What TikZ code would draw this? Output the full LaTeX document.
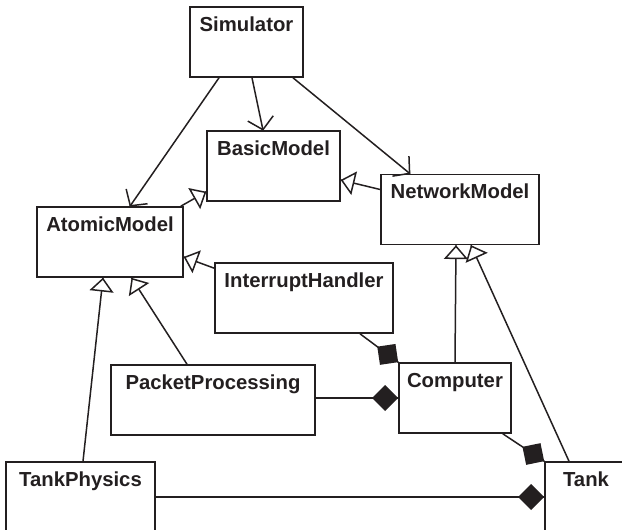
\documentclass[tikz,border=0pt]{standalone}
\usepackage{fontspec}
\setmainfont{Liberation Sans}
\usetikzlibrary{decorations.markings}
\definecolor{ink}{RGB}{35,31,32}
\begin{document}
\begin{tikzpicture}[x=1pt,y=-1pt,
  cls/.style={draw=ink, line width=1.6pt, rectangle, minimum height=70pt, inner sep=0pt},
  ttl/.style={anchor=base, inner sep=0pt, text=ink, font=\fontsize{20.3}{24}\selectfont\bfseries},
  link/.style={draw=ink, line width=1.5pt},
  endmark/.style={postaction={decorate, decoration={markings, mark=at position 1 with {#1}}}},
  nav/.style={link, endmark={\draw[ink, line width=1.5pt, line join=miter] (-12pt,13pt) -- (-0.5pt,0pt) -- (-12pt,-13pt);}},
  gen/.style={link, endmark={\draw[ink, line width=1.5pt, fill=white, line join=miter] (-1pt,0pt) -- (-13pt,10.5pt) -- (-13pt,-10.5pt) -- cycle;}},
  comp/.style={link, endmark={\fill[ink] (0pt,0pt) -- (-13pt,13pt) -- (-26pt,0pt) -- (-13pt,-13pt) -- cycle;}}]
\useasboundingbox (0,0) rectangle (622,530);

\node[cls, minimum width=113pt] (sim) at (246.5,42) {};
\node[cls, minimum width=133pt] (basic) at (273.5,166) {};
\node[cls, minimum width=146pt] (atomic) at (110,242) {};
\node[cls, minimum width=158pt] (network) at (460,209.5) {};
\node[cls, minimum width=178pt] (interrupt) at (304,298) {};
\node[cls, minimum width=204pt] (packet) at (213,400) {};
\node[cls, minimum width=112pt] (computer) at (455,398) {};
\node[cls, minimum width=149pt] (tankph) at (80.5,497) {};
\node[cls, minimum width=82pt] (tank) at (586,497) {};

\node[ttl] (simT) at ([yshift=-25pt]sim.north) {Simulator};
\node[ttl] (basicT) at ([yshift=-25pt]basic.north) {BasicModel};
\node[ttl] (atomicT) at ([yshift=-25pt]atomic.north) {AtomicModel};
\node[ttl] (networkT) at ([yshift=-25pt]network.north) {NetworkModel};
\node[ttl] (interruptT) at ([yshift=-25pt]interrupt.north) {InterruptHandler};
\node[ttl] (packetT) at ([yshift=-25pt]packet.north) {PacketProcessing};
\node[ttl] (computerT) at ([yshift=-25pt]computer.north) {Computer};
\node[ttl] (tankphT) at ([yshift=-25pt]tankph.north) {TankPhysics};
\node[ttl] (tankT) at ([yshift=-25pt]tank.north) {Tank};

% navigation
\draw[nav] ([xshift=-27.5pt]sim.south) -- ([xshift=20pt]atomic.north);
\draw[nav] ([xshift=5.5pt]sim.south) -- ([xshift=-10.5pt]basic.north);
\draw[nav] ([xshift=46.5pt]sim.south) -- ([xshift=-50pt]network.north);

% generalization
\draw[gen] ([xshift=-3pt]atomic.north east) -- ([yshift=10pt]basic.south west);
\draw[gen] ([yshift=20pt]network.west) -- ([yshift=-14pt]basic.east);
\draw[gen] ([yshift=-6pt]interrupt.north west) -- ([yshift=-15pt]atomic.east);
\draw[gen] ([xshift=-26pt]packet.north) -- ([xshift=21.5pt]atomic.south);
\draw[gen] ([xshift=2.5pt]tankph.north) -- ([xshift=-7pt]atomic.south);
\draw[gen] (computer.north) -- ([xshift=-4pt]network.south);
\draw[gen] ([xshift=-17pt]tank.north) -- ([xshift=11pt]network.south);

% composition
\draw[comp] ([xshift=56pt]interrupt.south) -- (computer.north west);
\draw[comp] (packet.east |- computer.west) -- (computer.west);
\draw[comp] ([xshift=-9pt]computer.south east) -- (tank.north west);
\draw[comp] (tankph.east) -- (tank.west);
\end{tikzpicture}
\end{document}
